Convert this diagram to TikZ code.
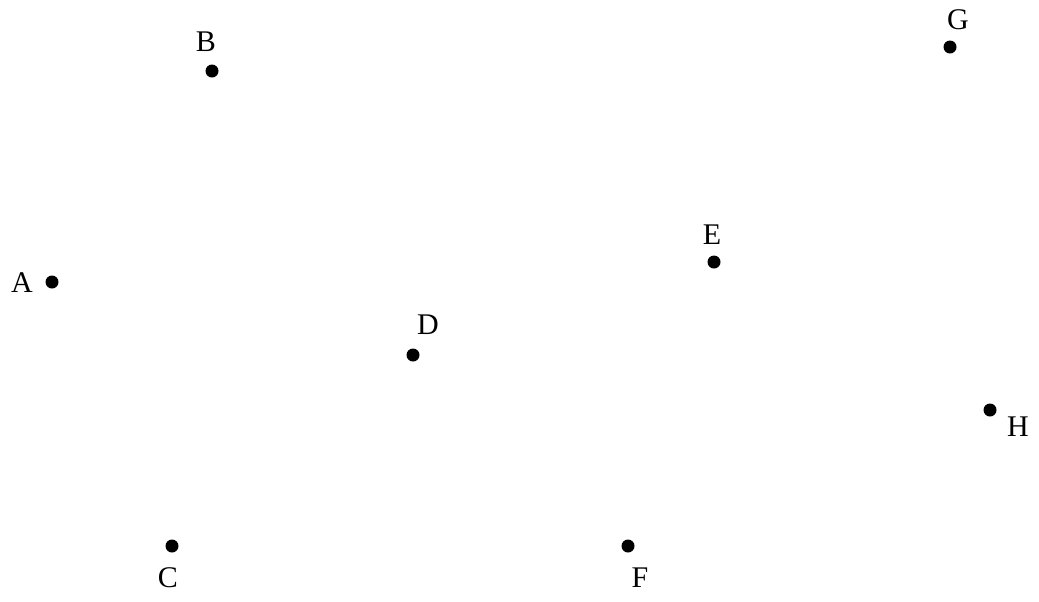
\documentclass[tikz,border=0pt]{standalone}
\usepackage{fontspec}
\setmainfont{Liberation Serif}
\begin{document}
\begin{tikzpicture}[x=0.75pt,y=-0.75pt,
  pt/.style={circle,fill=black,inner sep=0pt,minimum size=9.75pt},
  lbl/.style={inner sep=0pt,font=\fontsize{22.5}{26}\selectfont}]
\useasboundingbox (0,0) rectangle (1039,601);
\node[pt] (A) at (52,282) {};
\node[pt] (B) at (212,71) {};
\node[pt] (C) at (172,546) {};
\node[pt] (D) at (413,355) {};
\node[pt] (E) at (714,262) {};
\node[pt] (F) at (628,546) {};
\node[pt] (G) at (950,47) {};
\node[pt] (H) at (990,410) {};
\node[lbl] (lA) at (22,283) {A};
\node[lbl] (lB) at (206,42) {B};
\node[lbl] (lC) at (168,578) {C};
\node[lbl] (lD) at (428,325) {D};
\node[lbl] (lE) at (712,235) {E};
\node[lbl] (lF) at (640,578) {F};
\node[lbl] (lG) at (958,20) {G};
\node[lbl] (lH) at (1018,427) {H};
\end{tikzpicture}
\end{document}
